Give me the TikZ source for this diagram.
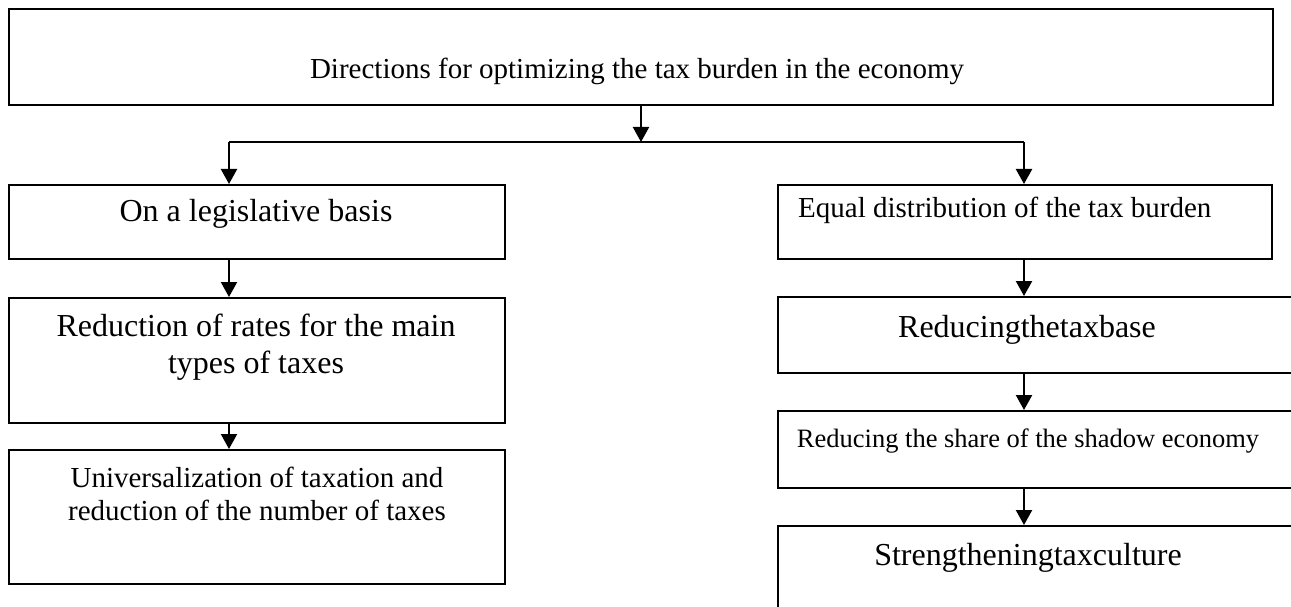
\documentclass[tikz,border=0pt]{standalone}
\usepackage{fontspec}
\setmainfont{Liberation Serif}
\usetikzlibrary{arrows.meta}
\tikzset{
  box/.style={draw, line width=2pt, anchor=north west, inner sep=0pt},
  arr/.style={line width=2.2pt, -{Triangle[width=16pt,length=15pt]}},
  big/.style={font=\fontsize{32}{37}\selectfont, anchor=base, inner sep=0pt},
  mid/.style={font=\fontsize{29}{33}\selectfont, anchor=base, inner sep=0pt},
  sml/.style={font=\fontsize{26.5}{30}\selectfont, anchor=base, inner sep=0pt},
}
\begin{document}
\begin{tikzpicture}[x=1pt,y=-1pt]
\useasboundingbox (0,0) rectangle (1291,607);
% boxes
\node[box, minimum width=1264pt, minimum height=96pt] (top) at (8,8) {};
\node[box, minimum width=496pt, minimum height=74pt] (leg) at (8,184) {};
\node[box, minimum width=496pt, minimum height=125pt] (rates) at (8,297) {};
\node[box, minimum width=496pt, minimum height=134pt] (univ) at (8,449) {};
\node[box, minimum width=494pt, minimum height=74pt] (equal) at (777,184) {};
\node[box, minimum width=540pt, minimum height=76pt] (base) at (777,296) {};
\node[box, minimum width=540pt, minimum height=77pt] (shadow) at (777,410) {};
\node[box, minimum width=540pt, minimum height=110pt] (culture) at (777,525) {};
% texts
\node[mid] (top-t) at (637,79) {Directions for optimizing the tax burden in the economy};
\node[big] (leg-t) at (256,222) {On a legislative basis};
\node[big, align=center] (rates-t) at (256,373) {Reduction of rates for the main\\types of taxes};
\node[mid, align=center] (univ-t) at (257,520) {Universalization of taxation and\\reduction of the number of taxes};
\node[mid, anchor=base west] (equal-t) at (798,217) {Equal distribution of the tax burden};
\node[big] (base-t) at (1027,337) {Reducingthetaxbase};
\node[sml] (shadow-t) at (1028,447) {Reducing the share of the shadow economy};
\node[big] (culture-t) at (1028,565) {Strengtheningtaxculture};
% arrows
\coordinate (forkL) at (229,142);
\coordinate (forkR) at (1024,142);
\draw[arr] (top.south) -- (top.south |- forkL);
\draw[line width=2pt] (forkL) -- (forkR);
\draw[arr] (forkL) -- (forkL |- leg.north);
\draw[arr] (forkR) -- (forkR |- equal.north);
\draw[arr] (forkL |- leg.south) -- (forkL |- rates.north);
\draw[arr] (forkL |- rates.south) -- (forkL |- univ.north);
\draw[arr] (forkR |- equal.south) -- (forkR |- base.north);
\draw[arr] (forkR |- base.south) -- (forkR |- shadow.north);
\draw[arr] (forkR |- shadow.south) -- (forkR |- culture.north);
\end{tikzpicture}
\end{document}
